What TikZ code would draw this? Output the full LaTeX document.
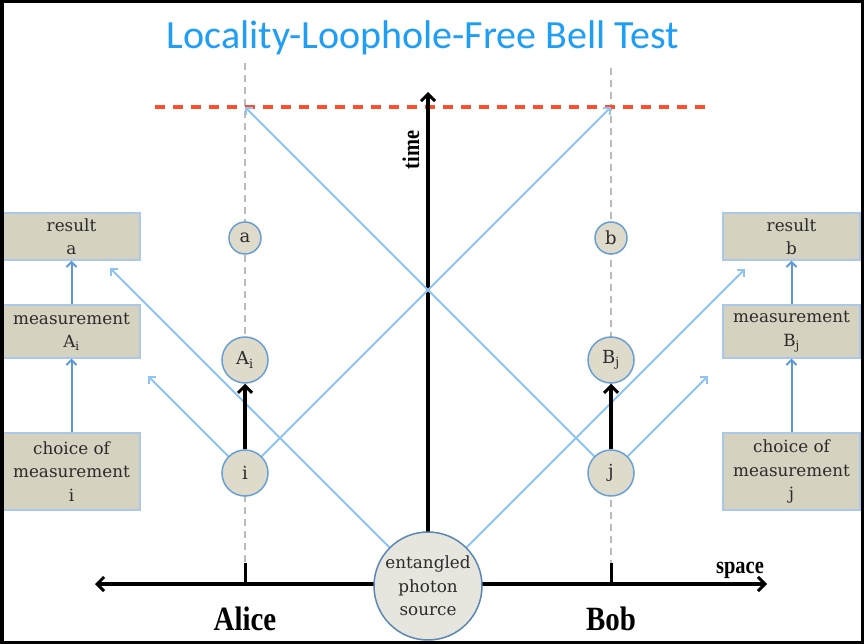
\documentclass[tikz,border=0pt]{standalone}
\usepackage{fontspec}
\setmainfont{DejaVu Serif}
\newfontfamily\titlefont{Carlito}
\newfontfamily\condbold[FakeStretch=0.85]{Liberation Serif Bold}
\usetikzlibrary{arrows.meta}
\definecolor{titleblue}{HTML}{1F9EF5}
\definecolor{redline}{HTML}{FF4D2E}
\definecolor{gridgray}{HTML}{BBBBBB}
\definecolor{boxfill}{HTML}{D6D2C0}
\definecolor{boxedge}{HTML}{A9C8EA}
\definecolor{circfill}{HTML}{DEDBCB}
\definecolor{srcfill}{HTML}{E6E5DE}
\definecolor{circedge}{HTML}{6A9FD4}
\definecolor{raycol}{HTML}{8EC3F3}
\definecolor{flowcol}{HTML}{5B9BD5}
\definecolor{textgray}{HTML}{2B2B2B}
\tikzset{
  box/.style={draw=boxedge, fill=boxfill, line width=1.2pt, minimum width=137pt,
    align=center, inner sep=0pt, text=textgray,
    font=\fontsize{16.8}{23.5}\selectfont},
  ev/.style={circle, draw=circedge, fill=circfill, line width=1.5pt, inner sep=0pt,
    text=textgray, font=\fontsize{18}{20}\selectfont},
  ray/.style={draw=raycol, line width=2pt, -{Straight Barb[length=5pt,width=10pt]}},
  flow/.style={draw=flowcol, line width=2pt, -{Straight Barb[length=5pt,width=10pt]}},
  guide/.style={draw=gridgray, line width=1.6pt, dash pattern=on 7pt off 5pt},
  axis/.style={line width=3.5pt, black},
  bigarrow/.style={line width=3.5pt, black, -{Straight Barb[length=7pt,width=14pt,line width=3pt]}},
  lbl/.style={font=\condbold\fontsize{24}{24}\selectfont, inner sep=0pt},
}
\begin{document}
\begin{tikzpicture}[x=1pt,y=-1pt]
\useasboundingbox (0,0) rectangle (864,644);
\fill[white] (0,0) rectangle (864,644);
% title
\node[font=\titlefont\fontsize{40}{40}\selectfont, text=titleblue] (title) at (423,38) {Locality-Loophole-Free Bell Test};
% world lines
\coordinate (aTop) at (245,63);
\coordinate (bTop) at (611,68);
\coordinate (aBot) at (245,563);
\coordinate (bBot) at (611,563);
\coordinate (aAx) at (245,584);
\coordinate (bAx) at (611,584);
\draw[guide] (aTop) -- (aBot);
\draw[guide] (bTop) -- (bBot);
% red dashed line
\coordinate (rL) at (155,107);
\coordinate (rR) at (705,107);
\draw[redline, line width=3.2pt, dash pattern=on 10pt off 8pt] (rL) -- (rR);
% space axis
\coordinate (sL) at (95,584);
\coordinate (sR) at (767,584);
\draw[axis, {Straight Barb[length=7pt,width=14pt,line width=3pt]}-{Straight Barb[length=7pt,width=14pt,line width=3pt]}] (sL) -- (sR);
\draw[line width=3pt] (aBot) -- (aAx);
\draw[line width=3pt] (bBot) -- (bAx);
% time axis
\coordinate (tTop) at (428,92);
\coordinate (tBot) at (428,560);
\draw[bigarrow] (tBot) -- (tTop);
\node[lbl, rotate=90] (time) at (411,150) {time};
\node[lbl] (space) at (740,570) {space};
\node[font=\condbold\fontsize{34}{34}\selectfont, inner sep=0pt] (alice) at (245,619) {Alice};
\node[font=\condbold\fontsize{34}{34}\selectfont, inner sep=0pt] (bob) at (611,619) {Bob};
% events
\node[ev, minimum size=32pt] (a) at (245,238) {a};
\node[ev, minimum size=46pt] (Ai) at (245,360) {A\textsubscript{i}};
\node[ev, minimum size=46pt] (i) at (245,473) {i};
\node[ev, minimum size=32pt] (b) at (611,238) {b};
\node[ev, minimum size=46pt] (Bj) at (611,360) {B\textsubscript{j}};
\node[ev, minimum size=46pt] (j) at (611,473) {j};
\node[ev, fill=srcfill, draw=circedge!85!black, minimum size=108pt, align=center,
  font=\fontsize{16.8}{23.5}\selectfont] (src) at (428,586) {entangled\\photon\\source};
% boxes
\node[box, minimum height=47pt] (resA) at (71.5,236.5) {result\\a};
\node[box, minimum height=53pt] (measA) at (71.5,331.5) {measurement\\A\textsubscript{i}};
\node[box, minimum height=77pt] (choiceA) at (71.5,471.5) {choice of\\measurement\\i};
\node[box, minimum height=47pt] (resB) at (791.5,236.5) {result\\b};
\node[box, minimum height=53pt] (measB) at (791.5,331.5) {measurement\\B\textsubscript{j}};
\node[box, minimum height=77pt] (choiceB) at (791.5,471.5) {choice of\\measurement\\j};
\draw[flow] (choiceA) -- (measA);
\draw[flow] (measA) -- (resA);
\draw[flow] (choiceB) -- (measB);
\draw[flow] (measB) -- (resB);
% light rays
\coordinate (e1) at (110,268);
\coordinate (e2) at (148,376);
\coordinate (e5) at (745,269);
\coordinate (e6) at (708,376);
\coordinate (tA) at (245,107);
\coordinate (tB) at (611,107);
\draw[ray] (src.135) -- (e1);
\draw[ray] (i.135) -- (e2);
\draw[ray] (i.45) -- (tB);
\draw[ray] (j.135) -- (tA);
\draw[ray] (src.45) -- (e5);
\draw[ray] (j.45) -- (e6);
% causal arrows
\draw[bigarrow] (i) -- (Ai);
\draw[bigarrow] (j) -- (Bj);
% frame
\draw[line width=3.5pt] (1.75,1.75) rectangle (862.25,642.25);
\end{tikzpicture}
\end{document}
